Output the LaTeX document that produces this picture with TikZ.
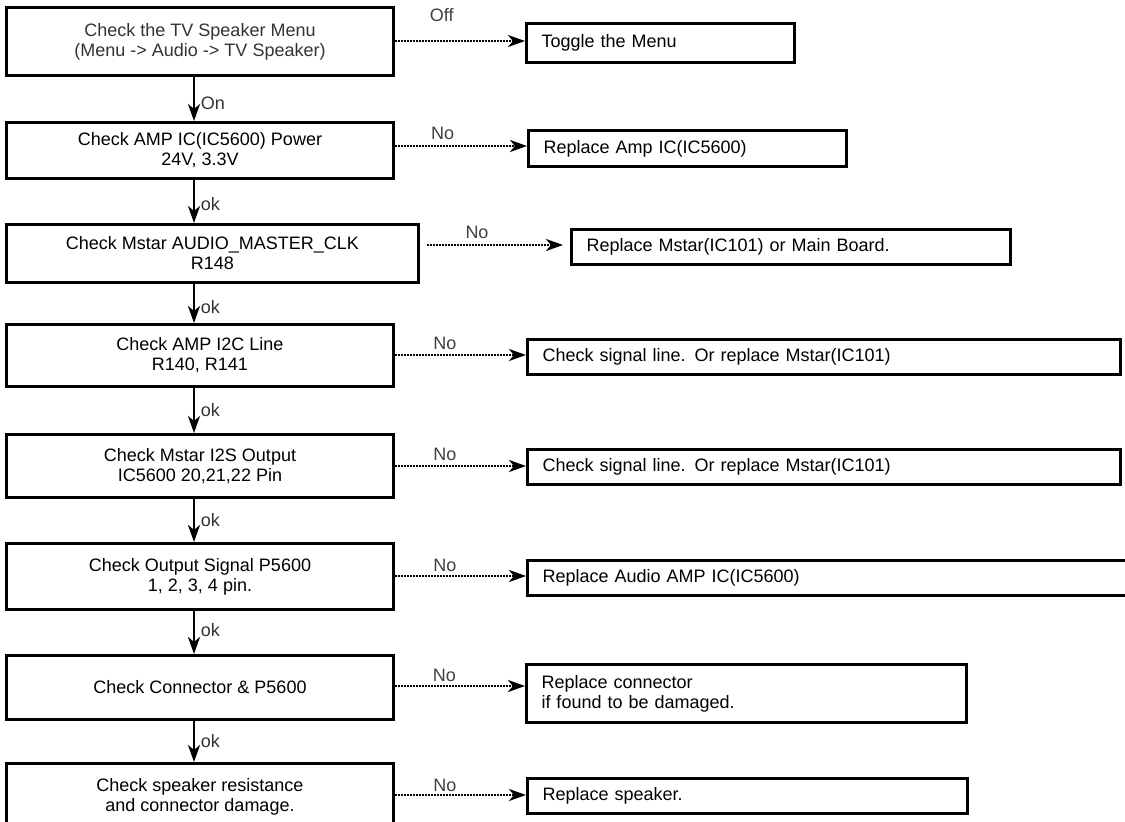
\documentclass[tikz,border=0pt]{standalone}
\usepackage{fontspec}
\setmainfont{Liberation Sans}
\usetikzlibrary{arrows.meta}
\newcommand{\fsz}{\fontsize{18}{20}\selectfont}
\begin{document}
\begin{tikzpicture}[x=1pt,y=-1pt,
  lbox/.style={draw, line width=3pt, anchor=north west, inner sep=0pt, align=center, font=\fsz},
  rbox/.style={draw, line width=3pt, anchor=north west, inner ysep=0pt, inner xsep=15pt, align=left, font=\fsz},
  tip/.style={-{Stealth[length=17pt,width=12pt,inset=5pt]}},
  varrow/.style={line width=2.6pt, tip},
  harrow/.style={line width=2.6pt, dash pattern=on 2pt off 1pt, tip},
  vlab/.style={right, inner sep=0.5pt, xshift=5pt, font=\fsz, text=black!80},
  hlab/.style={above, inner sep=1pt, font=\fsz, text=black!75}
]
\useasboundingbox[fill=white] (0,0) rectangle (1125,822);

% left column
\node[lbox, minimum width=387pt, minimum height=68pt, text=black!80] (b1) at (5,6) {Check the TV Speaker Menu\\(Menu -> Audio -> TV Speaker)};
\node[lbox, minimum width=387pt, minimum height=56pt] (b2) at (5,121) {Check AMP IC(IC5600) Power\\24V, 3.3V};
\node[lbox, minimum width=412pt, minimum height=58pt] (b3) at (5,223) {Check Mstar AUDIO\_MASTER\_CLK\\R148};
\node[lbox, minimum width=387pt, minimum height=62pt] (b4) at (5,323) {Check AMP I2C Line\\R140, R141};
\node[lbox, minimum width=387pt, minimum height=63pt] (b5) at (5,433) {Check Mstar I2S Output\\IC5600 20,21,22 Pin};
\node[lbox, minimum width=387pt, minimum height=66pt] (b6) at (5,542) {Check Output Signal P5600\\1, 2, 3, 4 pin.};
\node[lbox, minimum width=387pt, minimum height=64pt] (b7) at (5,654) {Check Connector \& P5600};
\node[lbox, minimum width=387pt, minimum height=66pt] (b8) at (5,762) {Check speaker resistance\\and connector damage.};

% right column
\node[rbox, text width=238pt, minimum height=39pt] (r1) at (525,22) {Toggle the Menu};
\node[rbox, text width=288pt, minimum height=36pt] (r2) at (527,129) {Replace Amp IC(IC5600)};
\node[rbox, text width=409pt, minimum height=35pt] (r3) at (570,228) {Replace Mstar(IC101) or Main Board.};
\node[rbox, text width=563pt, minimum height=35pt] (r4) at (526,338) {Check signal line. Or replace Mstar(IC101)};
\node[rbox, text width=563pt, minimum height=35pt] (r5) at (526,448) {Check signal line. Or replace Mstar(IC101)};
\node[rbox, text width=580pt, minimum height=35pt] (r6) at (526,559) {Replace Audio AMP IC(IC5600)};
\node[rbox, text width=410pt, minimum height=58pt] (r7) at (525,663) {Replace connector\\if found to be damaged.};
\node[rbox, text width=410pt, minimum height=35pt] (r8) at (526,777) {Replace speaker.};

% vertical connectors
\draw[varrow] (194,0 |- b1.south) -- (194,0 |- b2.north) node[vlab, pos=0.6] {On};
\draw[varrow] (194,0 |- b2.south) -- (194,0 |- b3.north) node[vlab, pos=0.55] {ok};
\draw[varrow] (194,0 |- b3.south) -- (194,0 |- b4.north) node[vlab, pos=0.6] {ok};
\draw[varrow] (194,0 |- b4.south) -- (194,0 |- b5.north) node[vlab, pos=0.5] {ok};
\draw[varrow] (194,0 |- b5.south) -- (194,0 |- b6.north) node[vlab, pos=0.5] {ok};
\draw[varrow] (194,0 |- b6.south) -- (194,0 |- b7.north) node[vlab, pos=0.45] {ok};
\draw[varrow] (194,0 |- b7.south) -- (194,0 |- b8.north) node[vlab, pos=0.5] {ok};

% horizontal connectors
\draw[harrow] (b1.east |- 0,41) -- (r1.west |- 0,41) node[hlab, pos=0.36, yshift=17pt] {Off};
\draw[harrow] (b2.east |- 0,146) -- (r2.west |- 0,146) node[hlab, pos=0.36, yshift=4pt] {No};
\draw[harrow, shorten <=7pt, shorten >=7pt] (b3.east |- 0,245) -- (r3.west |- 0,245) node[hlab, pos=0.38, yshift=4pt] {No};
\draw[harrow] (b4.east |- 0,355) -- (r4.west |- 0,355) node[hlab, pos=0.38, yshift=3pt] {No};
\draw[harrow] (b5.east |- 0,466) -- (r5.west |- 0,466) node[hlab, pos=0.38, yshift=3pt] {No};
\draw[harrow] (b6.east |- 0,576) -- (r6.west |- 0,576) node[hlab, pos=0.38, yshift=2pt] {No};
\draw[harrow] (b7.east |- 0,686) -- (r7.west |- 0,686) node[hlab, pos=0.38, yshift=2pt] {No};
\draw[harrow] (b8.east |- 0,795) -- (r8.west |- 0,795) node[hlab, pos=0.38, yshift=1pt] {No};
\end{tikzpicture}
\end{document}
